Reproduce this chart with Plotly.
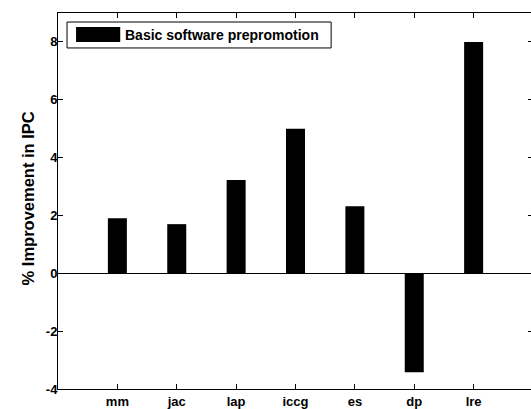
import plotly.graph_objects as go

categories = ["mm", "jac", "lap", "iccg", "es", "dp", "lre"]
values = [1.9, 1.7, 3.23, 5.0, 2.32, -3.42, 8.0]
series_name = "Basic software prepromotion"
y_title = "% Improvement in IPC"
y_ticks = [-4, -2, 0, 2, 4, 6, 8]
y_tick_labels = ["-4", "-2", "0", "2", "4", "6", "8"]

positions = list(range(1, len(categories) + 1))

font_family = "Liberation Sans, Arial, sans-serif"

fig = go.Figure()
fig.add_trace(go.Bar(
    x=positions, y=values, name=series_name,
    marker=dict(color="black", line=dict(width=0)),
    showlegend=False,
))

# Manual legend (MATLAB style: box, wide swatch, bold label)
fig.add_shape(type="rect", xref="paper", yref="paper",
              x0=0.019, x1=0.575, y0=0.907, y1=0.976,
              line=dict(color="black", width=1), fillcolor="white", layer="above")
fig.add_shape(type="rect", xref="paper", yref="paper",
              x0=0.038, x1=0.131, y0=0.923, y1=0.963,
              line=dict(width=0), fillcolor="black", layer="above")
fig.add_annotation(xref="paper", yref="paper", x=0.137, y=0.942,
                   xanchor="left", yanchor="middle", showarrow=False,
                   text=series_name,
                   font=dict(family=font_family, size=14, color="black", weight="bold"))

# Y-axis title
fig.add_annotation(xref="paper", yref="paper", x=-0.063, y=0.507,
                   xanchor="center", yanchor="middle", showarrow=False,
                   textangle=-90, text=y_title,
                   font=dict(family=font_family, size=16.5, color="black", weight="bold"))

fig.update_layout(
    width=533, height=409,
    margin=dict(l=58, r=0, t=13, b=20),
    paper_bgcolor="white", plot_bgcolor="white",
    bargap=0.68,
    font=dict(family=font_family, color="black", size=13),
    showlegend=False,
    xaxis=dict(
        range=[0, 8], tickvals=positions, ticktext=categories,
        ticks="inside", ticklen=5, tickcolor="black", tickwidth=1,
        showline=True, linecolor="black", linewidth=1, mirror="allticks",
        showgrid=False, zeroline=False, automargin=False,
        ticklabelstandoff=0,
        tickfont=dict(family=font_family, size=13, weight="bold"),
    ),
    yaxis=dict(
        range=[-4, 9], tickvals=y_ticks, ticktext=y_tick_labels,
        ticks="inside", ticklen=5, tickcolor="black", tickwidth=1,
        showline=True, linecolor="black", linewidth=1, mirror="allticks",
        showgrid=False, zeroline=True, zerolinecolor="black", zerolinewidth=1,
        automargin=False, ticklabelstandoff=-3,
        tickfont=dict(family=font_family, size=13, weight="bold"),
    ),
)

fig.write_html(
    "out.html",
    config={"displayModeBar": False},
    post_script="document.body.style.margin='0';document.body.style.overflow='hidden';",
)
